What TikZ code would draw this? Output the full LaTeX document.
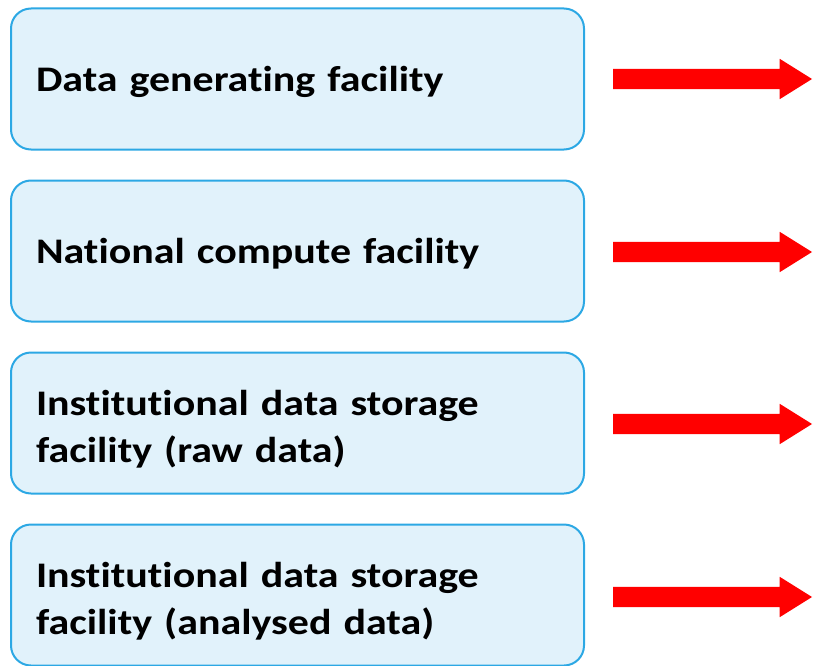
\documentclass[tikz,border=0pt]{standalone}
\usepackage{fontspec}
\setmainfont{Carlito}[FakeStretch=1.165,RawFeature=-liga]
\usetikzlibrary{shapes.arrows, positioning}
\definecolor{boxfill}{HTML}{E1F2FB}
\definecolor{boxline}{HTML}{2CA8E4}
\tikzset{facility/.style={draw=boxline,fill=boxfill,line width=2pt,rounded corners=20pt,
            minimum width=573pt,minimum height=141pt,inner xsep=25pt,text width=523pt,
            text depth=0pt,align=left,font=\fontsize{36}{47}\selectfont\bfseries},
         twoline/.style={text depth=40pt},
         flow/.style={single arrow,fill=red,draw=none,anchor=west,inner xsep=0pt,inner ysep=10pt,
            outer sep=0pt,minimum height=199pt,single arrow head extend=10pt,single arrow tip angle=64}}

\begin{document}
\begin{tikzpicture}[x=1pt,y=-1pt]
        \useasboundingbox (0,0) rectangle (816,666);
        \node[facility](f1)at(297.5,79){Data generating facility};
        \node[facility](f2)at(297.5,251){National compute facility};
        \node[facility,twoline](f3)at(297.5,423){Institutional data storage\\facility (raw data)};
        \node[facility,twoline](f4)at(297.5,595){Institutional data storage\\facility (analysed data)};

        \node[flow](a1)at(613,79){};
        \node[flow](a2)at(613,252){};
        \node[flow](a3)at(613,424){};
        \node[flow](a4)at(613,597){};
    \end{tikzpicture}
\end{document}
